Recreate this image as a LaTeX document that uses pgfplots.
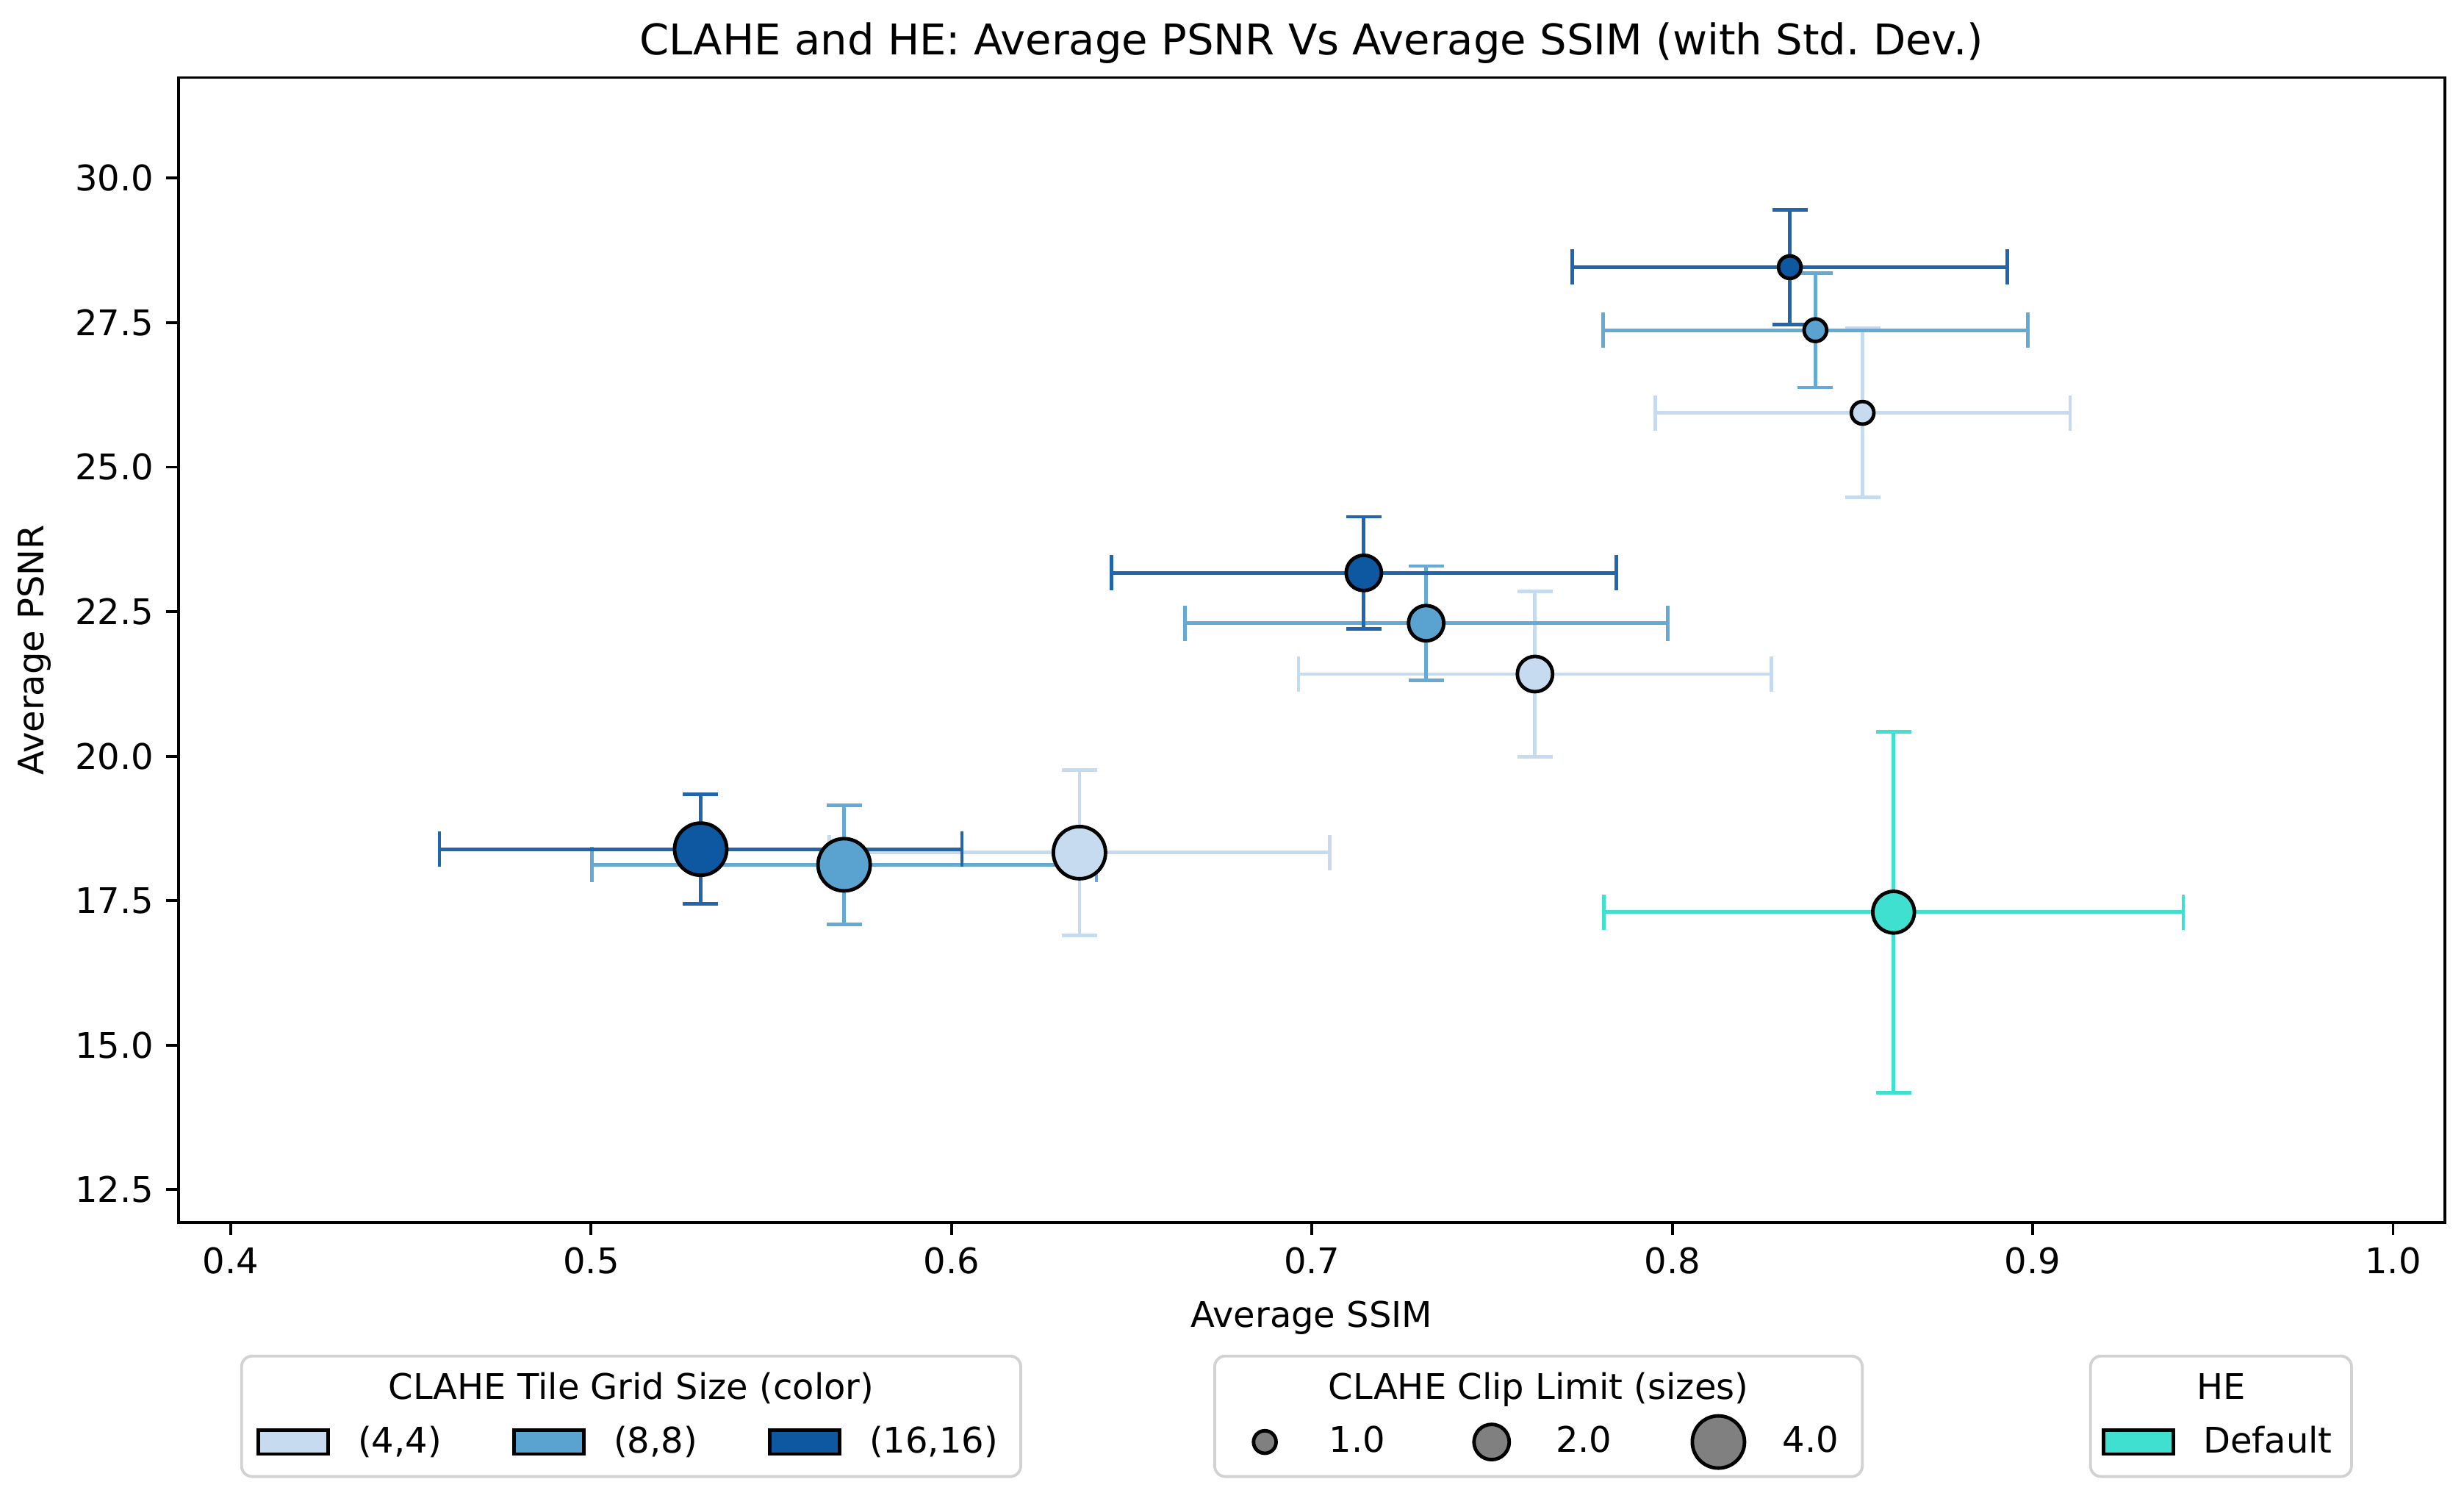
\documentclass[border=0pt]{standalone}
\usepackage{fontspec}
\setmainfont{DejaVu Sans}
\usepackage{pgfplots}
\pgfplotsset{compat=1.18}

% Blues colormap picks, bars a bit lighter than markers
\definecolor{c44}{HTML}{C6DBEF}
\definecolor{c88}{HTML}{5AA2CF}
\definecolor{c1616}{HTML}{0D58A1}
\definecolor{e44}{HTML}{C6DBEF}
\definecolor{e88}{HTML}{64AAD4}
\definecolor{e1616}{HTML}{2166AC}
\definecolor{he}{HTML}{40E0D0}

\pgfplotsset{
  errpt/.style n args={3}{
    only marks, mark=*, mark size=#3,
    mark options={solid, fill=#1, draw=black, line width=1pt},
    error bars/x dir=both, error bars/x explicit,
    error bars/y dir=both, error bars/y explicit,
    error bars/error bar style={color=#2, line width=1pt},
    error bars/error mark options={rotate=90, mark size=5pt, color=#2, line width=1pt},
  },
  legaxis/.style={
    at={(0pt,0pt)}, anchor=south west,
    scale only axis, width=642.5pt, height=324.5pt,
    hide axis, xmin=0, xmax=1, ymin=0, ymax=1,
  },
  patchleg/.style={
    legend image code/.code={\draw[##1, draw=black, line width=1pt] (0.5pt,-3.4pt) rectangle (20.3pt,3.4pt);},
  },
  markleg/.style={
    legend image code/.code={\path (0pt,0pt) (20pt,0pt); \draw[##1] plot coordinates {(10pt,0pt)};},
  },
  legrow/.style={
    draw=none, fill=none, inner sep=0pt, outer sep=0pt,
    nodes={inner sep=0pt},
    /tikz/every odd column/.append style={column sep=8pt},
    /tikz/every even column/.append style={column sep=20pt},
  },
}

\begin{document}
\begin{tikzpicture}
\useasboundingbox (-50.6pt,-76.6pt) rectangle (648pt,346.5pt);

\begin{axis}[
  at={(0pt,0pt)}, anchor=south west,
  scale only axis, width=642.5pt, height=324.5pt,
  xmin=0.3855, xmax=1.0143, ymin=11.93, ymax=31.74,
  xtick={0.4,0.5,0.6,0.7,0.8,0.9,1.0},
  ytick={12.5,15,17.5,20,22.5,25,27.5,30},
  tick pos=left, tick align=outside,
  major tick length=3.5pt,
  every tick/.style={black, line width=0.8pt},
  axis line style={line width=0.8pt},
  /pgf/number format/assume math mode=true,
  xticklabel style={/pgf/number format/fixed, /pgf/number format/fixed zerofill, /pgf/number format/precision=1},
  yticklabel style={/pgf/number format/fixed, /pgf/number format/fixed zerofill, /pgf/number format/precision=1},
  title={CLAHE and HE: Average PSNR Vs Average SSIM (with Std.\ Dev.)},
  every axis title shift=0pt,
  title style={at={(axis description cs:0.5,1)}, anchor=base, yshift=6.4pt, font=\fontsize{12}{14}\selectfont},
  xlabel={Average SSIM},
  ylabel={Average PSNR},
  xlabel style={at={(axis description cs:0.5,0)}, anchor=center, yshift=-27pt},
  ylabel style={at={(axis description cs:-0.0635,0.5)}, anchor=center},
]
% tile grid (4,4): clip 1, 2, 4
\addplot[errpt={c44}{e44}{3.2pt}] coordinates {(0.8528,25.94) +- (0.0576,1.46)};
\addplot[errpt={c44}{e44}{5.0pt}] coordinates {(0.7619,21.42) +- (0.0656,1.43)};
\addplot[errpt={c44}{e44}{7.4pt}] coordinates {(0.6355,18.33) +- (0.0694,1.43)};
% tile grid (8,8)
\addplot[errpt={c88}{e88}{3.2pt}] coordinates {(0.8397,27.37) +- (0.0589,0.99)};
\addplot[errpt={c88}{e88}{5.0pt}] coordinates {(0.7317,22.30) +- (0.0670,0.99)};
\addplot[errpt={c88}{e88}{7.4pt}] coordinates {(0.5702,18.12) +- (0.0700,1.03)};
% tile grid (16,16)
\addplot[errpt={c1616}{e1616}{3.2pt}] coordinates {(0.8326,28.46) +- (0.0603,0.99)};
\addplot[errpt={c1616}{e1616}{5.0pt}] coordinates {(0.7144,23.17) +- (0.0700,0.97)};
\addplot[errpt={c1616}{e1616}{7.4pt}] coordinates {(0.5304,18.39) +- (0.0725,0.945)};
% plain HE
\addplot[errpt={he}{he}{5.9pt}] coordinates {(0.8614,17.30) +- (0.0804,3.12)};
\end{axis}

% legend: tile grid size
\begin{axis}[legaxis, patchleg, legend columns=3,
  legend style={legrow, at={(0.0344,-0.1917)}, anchor=west}]
\addlegendimage{fill=c44}\addlegendentry{(4,4)}
\addlegendimage{fill=c88}\addlegendentry{(8,8)}
\addlegendimage{fill=c1616}\addlegendentry{(16,16)}
\end{axis}

% legend: clip limit
\begin{axis}[legaxis, markleg, legend columns=3,
  legend style={legrow, at={(0.4635,-0.1917)}, anchor=west}]
\addlegendimage{only marks, mark=*, mark size=3.2pt, mark options={fill=gray, draw=black, line width=1pt}}\addlegendentry{1.0}
\addlegendimage{only marks, mark=*, mark size=5.0pt, mark options={fill=gray, draw=black, line width=1pt}}\addlegendentry{2.0}
\addlegendimage{only marks, mark=*, mark size=7.4pt, mark options={fill=gray, draw=black, line width=1pt}}\addlegendentry{4.0}
\end{axis}

% legend: HE
\begin{axis}[legaxis, patchleg,
  legend style={legrow, at={(0.8487,-0.1917)}, anchor=west}]
\addlegendimage{fill=he}\addlegendentry{Default}
\end{axis}

% legend frames and titles
\draw[gray!35, line width=0.8pt, rounded corners=3pt] (17.9pt,-37.85pt) rectangle (238.8pt,-72pt);
\draw[gray!35, line width=0.8pt, rounded corners=3pt] (293.8pt,-37.85pt) rectangle (477.4pt,-72pt);
\draw[gray!35, line width=0.8pt, rounded corners=3pt] (542.1pt,-37.85pt) rectangle (616.1pt,-72pt);
\node[anchor=base] at (128.35pt,-50pt) {CLAHE Tile Grid Size (color)};
\node[anchor=base] at (385.6pt,-50pt) {CLAHE Clip Limit (sizes)};
\node[anchor=base] at (579.1pt,-50pt) {HE};
\end{tikzpicture}
\end{document}
